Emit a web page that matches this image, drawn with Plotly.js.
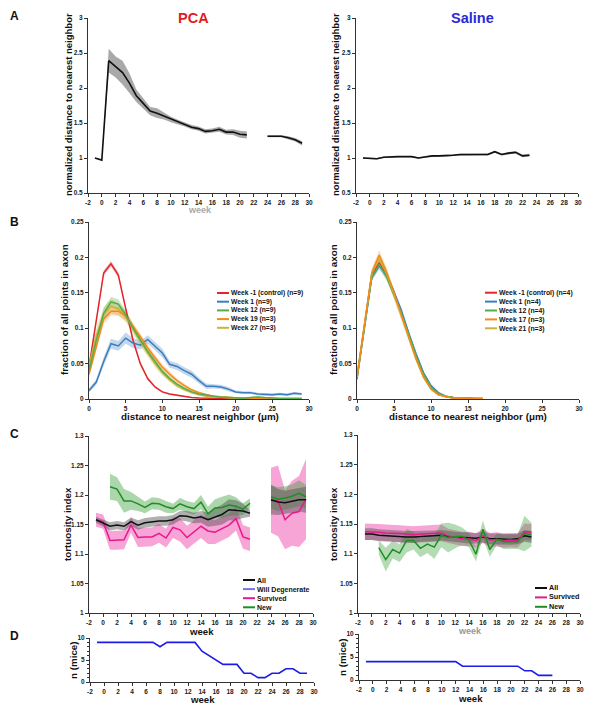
<!DOCTYPE html>
<html><head><meta charset="utf-8">
<script src="https://cdn.plot.ly/plotly-3.0.1.min.js"></script>
<style>html,body{margin:0;padding:0;background:#fff}#chart{width:595px;height:713px}</style>
</head><body><div id="chart"></div>
<script>
// ================= DATA =================
// Panel A: normalized distance to nearest neighbor (mean, SEM) by week
const weeksPCA = [-1,0,1,2,3,4,5,6,7,8,9,10,11,12,13,14,15,16,17,18,19,20,21,22,23,24,25,26,27,28,29];
const distPCA  = [1.00,0.97,2.39,2.30,2.22,2.07,1.89,1.78,1.67,1.64,1.60,1.55,1.51,1.48,1.44,1.42,1.38,1.39,1.41,1.37,1.37,1.34,1.33,null,null,1.31,1.31,1.31,1.29,1.26,1.21];
const distPCAsem = [0.005,0.005,0.17,0.15,0.17,0.14,0.09,0.07,0.06,0.07,0.05,0.04,0.035,0.03,0.03,0.03,0.03,0.03,0.035,0.035,0.04,0.05,0.05,null,null,0.015,0.015,0.015,0.02,0.025,0.03];
const weeksSal = [-1,0,1,2,3,4,5,6,7,8,9,10,11,12,13,14,15,16,17,18,19,20,21,22,23];
const distSal  = [1.00,0.99,0.99,1.01,1.02,1.02,1.02,1.02,1.00,1.02,1.03,1.03,1.03,1.04,1.05,1.05,1.05,1.05,1.05,1.09,1.05,1.07,1.08,1.03,1.04];
const distSalSem = [0.01,0.01,0.01,0.01,0.01,0.01,0.01,0.01,0.01,0.01,0.012,0.012,0.012,0.012,0.012,0.015,0.015,0.015,0.015,0.015,0.015,0.015,0.015,0.02,0.02];

// Panel B: fraction of all points vs distance (um)
const binsPCA = [0,1,2,3,4,5,6,7,8,9,10,11,12,13,14,15,16,17,18,19,20,21,22,23,24,25,26,27,28,29];
const labelsPCA = ['Week -1 (control) (n=9)','Week 1 (n=9)','Week 12 (n=9)','Week 19 (n=3)','Week 27 (n=3)'];
const pcaWm1 = [0.045,0.110,0.178,0.191,0.175,0.128,0.083,0.050,0.029,0.017,0.010,0.007,0.005,0.003,0.002,0.0015,0.001,0.001,0.001,0.0005,0.0005,0.0005,0.0003,0.0003,0.0002,0.0002,0.0001,0.0001,0.0001,0.0001];
const pcaWm1sem = [0.003,0.004,0.004,0.004,0.004,0.003,0.003,0.002,0.002,0.001,0.001,0.001,0.001,0.0005,0.0005,0.0005,0.0005,0.0005,0.0005,0.0003,0.0003,0.0003,0.0002,0.0002,0.0002,0.0002,0.0001,0.0001,0.0001,0.0001];
const pcaW1 = [0.012,0.024,0.053,0.078,0.075,0.086,0.079,0.076,0.084,0.075,0.065,0.049,0.046,0.040,0.035,0.026,0.018,0.018,0.017,0.014,0.010,0.009,0.009,0.007,0.006,0.006,0.007,0.006,0.008,0.007];
const pcaW1sem = [0.003,0.004,0.006,0.007,0.007,0.008,0.007,0.006,0.006,0.006,0.006,0.005,0.005,0.005,0.005,0.004,0.004,0.003,0.003,0.003,0.002,0.002,0.002,0.002,0.002,0.002,0.002,0.002,0.002,0.002];
const pcaW12 = [0.040,0.083,0.121,0.137,0.134,0.119,0.100,0.083,0.067,0.053,0.039,0.029,0.021,0.015,0.010,0.007,0.005,0.004,0.003,0.002,0.002,0.001,0.002,0.003,0.002,0.001,0.001,0.001,0.001,0.001];
const pcaW12sem = [0.005,0.006,0.007,0.007,0.007,0.006,0.005,0.005,0.004,0.004,0.003,0.003,0.002,0.002,0.002,0.001,0.001,0.001,0.001,0.001,0.001,0.001,0.001,0.001,0.001,0.0005,0.0005,0.0005,0.0005,0.0005];
const pcaW19 = [0.035,0.075,0.113,0.124,0.124,0.117,0.103,0.088,0.072,0.058,0.045,0.035,0.026,0.019,0.013,0.009,0.006,0.004,0.003,0.002,0.001,0.001,0.001,0.0005,0.0005,0.0005,0.0002,0.0002,0.0002,0.0002];
const pcaW19sem = [0.005,0.006,0.007,0.006,0.006,0.006,0.005,0.005,0.005,0.004,0.004,0.004,0.003,0.003,0.002,0.002,0.001,0.001,0.001,0.001,0.0005,0.0005,0.0005,0.0005,0.0005,0.0005,0.0002,0.0002,0.0002,0.0002];
const pcaW27 = [0.048,0.090,0.120,0.131,0.127,0.117,0.099,0.081,0.065,0.050,0.037,0.027,0.019,0.013,0.009,0.006,0.004,0.003,0.002,0.001,0.001,0.001,0.0005,0.0005,0.0002,0.0002,0.0002,0.0002,0.0002,0.0002];
const pcaW27sem = [0.008,0.009,0.010,0.010,0.009,0.008,0.007,0.006,0.005,0.005,0.004,0.003,0.003,0.002,0.002,0.001,0.001,0.001,0.001,0.0005,0.0005,0.0005,0.0005,0.0005,0.0005,0.0002,0.0002,0.0002,0.0002,0.0002];

const binsSal = [0,1,2,3,4,5,6,7,8,9,10,11,12,13,14,15,16,17];
const labelsSal = ['Week -1 (control) (n=4)','Week 1 (n=4)','Week 12 (n=4)','Week 17 (n=3)','Week 21 (n=3)'];
const salWm1 = [0.030,0.104,0.176,0.192,0.176,0.150,0.122,0.090,0.059,0.033,0.016,0.007,0.003,0.002,0.001,0.001,0.0005,0.0005];
const salWm1sem = [0.003,0.004,0.004,0.005,0.004,0.004,0.003,0.003,0.003,0.002,0.001,0.001,0.0005,0.0005,0.0005,0.0005,0.0002,0.0002];
const salW1 = [0.028,0.100,0.172,0.188,0.175,0.151,0.125,0.093,0.063,0.037,0.019,0.009,0.004,0.002,0.001,0.001,0.001,0.001];
const salW1sem = [0.003,0.004,0.005,0.005,0.005,0.004,0.004,0.003,0.003,0.002,0.002,0.001,0.0005,0.0005,0.0005,0.0005,0.0005,0.0005];
const salW12 = [0.030,0.102,0.172,0.190,0.172,0.147,0.121,0.091,0.061,0.035,0.017,0.008,0.004,0.002,0.001,0.001,0.0005,0.0005];
const salW12sem = [0.003,0.004,0.005,0.005,0.005,0.004,0.004,0.003,0.003,0.002,0.002,0.001,0.0005,0.0005,0.0005,0.0005,0.0002,0.0002];
const salW17 = [0.032,0.108,0.178,0.203,0.179,0.150,0.119,0.087,0.056,0.031,0.014,0.006,0.003,0.001,0.001,0.0005,0.0005,0.0002];
const salW17sem = [0.003,0.005,0.006,0.007,0.006,0.005,0.004,0.004,0.003,0.002,0.001,0.001,0.0005,0.0005,0.0005,0.0005,0.0002,0.0002];
const salW21 = [0.031,0.106,0.177,0.198,0.177,0.148,0.118,0.086,0.056,0.031,0.014,0.006,0.003,0.001,0.001,0.0005,0.0005,0.0002];
const salW21sem = [0.004,0.006,0.007,0.008,0.007,0.006,0.005,0.005,0.004,0.003,0.002,0.001,0.0005,0.0005,0.0005,0.0005,0.0002,0.0002];

// Panel C: tortuosity index
const tortAllPCA = [1.158,1.152,1.147,1.149,1.147,1.155,1.149,1.153,1.155,1.156,1.156,1.158,1.165,1.164,1.161,1.163,1.158,1.163,1.167,1.175,1.174,1.173,1.169,null,null,1.192,1.188,1.187,1.190,1.192,1.192];
const tortAllPCAsem = [0.005,0.006,0.007,0.007,0.007,0.007,0.008,0.008,0.008,0.008,0.008,0.008,0.008,0.009,0.009,0.010,0.012,0.015,0.017,0.018,0.017,0.012,0.006,null,null,0.025,0.022,0.02,0.02,0.02,0.022];
const tortSurvPCA = [1.158,1.155,1.123,1.123,1.124,1.149,1.128,1.129,1.129,1.135,1.127,1.145,1.141,1.128,1.138,1.147,1.139,1.137,1.143,1.149,1.160,1.129,1.125,null,null,1.191,1.190,1.158,1.169,1.172,1.193];
const tortSurvPCAsem = [0.012,0.012,0.016,0.016,0.016,0.013,0.016,0.016,0.016,0.016,0.016,0.018,0.02,0.02,0.02,0.02,0.022,0.02,0.02,0.02,0.02,0.02,0.02,null,null,0.055,0.06,0.05,0.055,0.06,0.068];
const tortNewPCA = [null,null,1.214,1.210,1.190,1.190,1.185,1.179,1.186,1.185,1.180,1.177,1.185,1.180,1.177,1.188,1.168,1.178,1.179,1.183,1.181,1.176,1.186,null,null,1.197,1.193,1.195,1.198,1.203,1.197];
const tortNewPCAsem = [null,null,0.022,0.02,0.02,0.015,0.012,0.01,0.01,0.01,0.01,0.008,0.01,0.01,0.01,0.012,0.012,0.015,0.018,0.018,0.015,0.01,0.008,null,null,0.02,0.02,0.02,0.02,0.022,0.02];
const weeksWillDeg = [-1,0];
const tortWillDeg = [1.157,1.153];

const tortAllSal = [1.133,1.133,1.131,1.130,1.130,1.129,1.128,1.128,1.129,1.130,1.130,1.131,1.129,1.128,1.127,1.126,1.126,1.128,1.125,1.125,1.124,1.124,1.125,1.130,1.128];
const tortAllSalSem = [0.01,0.01,0.01,0.01,0.01,0.01,0.01,0.01,0.009,0.009,0.009,0.009,0.009,0.009,0.009,0.009,0.009,0.009,0.009,0.009,0.009,0.009,0.009,0.01,0.01];
const tortSurvSal = [1.137,1.137,1.136,1.135,1.135,1.134,1.133,1.132,1.133,1.134,1.134,1.135,1.130,1.127,1.125,1.125,1.122,1.130,1.123,1.124,1.122,1.123,1.122,1.137,1.136];
const tortSurvSalSem = [0.014,0.014,0.014,0.014,0.014,0.014,0.014,0.014,0.014,0.014,0.014,0.014,0.012,0.012,0.012,0.012,0.012,0.012,0.012,0.012,0.012,0.012,0.012,0.014,0.014];
const tortNewSal = [null,null,1.110,1.090,1.107,1.101,1.122,1.122,1.109,1.116,1.111,1.131,1.127,1.129,1.129,1.123,1.099,1.141,1.107,1.124,1.120,1.120,1.120,1.134,1.132];
const tortNewSalSem = [null,null,0.012,0.02,0.015,0.015,0.02,0.015,0.015,0.015,0.02,0.02,0.025,0.02,0.015,0.012,0.012,0.015,0.012,0.01,0.012,0.012,0.012,0.03,0.02];

// Panel D: number of mice
const miceWeeksPCA = [-1,0,1,2,3,4,5,6,7,8,9,10,11,12,13,14,15,16,17,18,19,20,21,22,23,24,25,26,27,28,29];
const micePCA = [9,9,9,9,9,9,9,9,9,8,9,9,9,9,9,7,6,5,4,4,4,2,2,1,1,2,2,3,3,2,2];
const miceWeeksSal = [-1,0,1,2,3,4,5,6,7,8,9,10,11,12,13,14,15,16,17,18,19,20,21,22,23,24,25,26];
const miceSal = [4,4,4,4,4,4,4,4,4,4,4,4,4,4,3,3,3,3,3,3,3,3,3,2,2,1,1,1];

// Tick values
const weekTicks = [-2,0,2,4,6,8,10,12,14,16,18,20,22,24,26,28,30];
const distTicks = [0,5,10,15,20,25,30];
const ticksA = [0.5,1,1.5,2,2.5,3];
const ticksB = [0,0.05,0.1,0.15,0.2,0.25];
const ticksC = [1,1.05,1.1,1.15,1.2,1.25,1.3];
const ticksD = [0,5,10];

// ================= DRAWING =================
const FONT = 'Liberation Sans, Arial, Helvetica, sans-serif';
const W = 595, H = 713;
const px = x => x / W, py = y => 1 - y / H;
const sfx = n => (n === 1 ? '' : String(n));
const traces = [];

function segs(x, y) {
  const out = []; let cur = null;
  for (let i = 0; i < y.length; i++) {
    if (y[i] == null) { cur = null; continue; }
    if (!cur) { cur = { x: [], i: [] }; out.push(cur); }
    cur.x.push(x[i]); cur.i.push(i);
  }
  return out;
}
function band(x, m, s, color, n) {
  segs(x, m).forEach(sg => {
    const up = sg.i.map(i => m[i] + s[i]);
    const lo = sg.i.map(i => m[i] - s[i]);
    traces.push({ x: sg.x.concat(sg.x.slice().reverse()), y: up.concat(lo.reverse()),
      mode: 'lines', fill: 'toself', fillcolor: color, line: { width: 0, color: color },
      hoverinfo: 'skip', showlegend: false, xaxis: 'x' + sfx(n), yaxis: 'y' + sfx(n) });
  });
}
function line(x, m, color, n, w) {
  traces.push({ x: x.slice(0, m.length), y: m, mode: 'lines', line: { color: color, width: w || 1.5 },
    connectgaps: false, hoverinfo: 'skip', showlegend: false, xaxis: 'x' + sfx(n), yaxis: 'y' + sfx(n) });
}

// A
band(weeksPCA, distPCA, distPCAsem, 'rgba(140,140,140,0.75)', 1);
line(weeksPCA, distPCA, '#111', 1, 1.6);
band(weeksSal, distSal, distSalSem, 'rgba(140,140,140,0.75)', 2);
line(weeksSal, distSal, '#111', 2, 1.6);

// B
const histColors = ['#e3262c', '#3a7ebf', '#55ad4c', '#f28a1c', '#c9b43a'];
const histBands = ['rgba(227,38,44,0.3)', 'rgba(58,126,191,0.3)', 'rgba(85,173,76,0.3)', 'rgba(242,138,28,0.3)', 'rgba(201,180,58,0.35)'];
const pcaSeries = [[pcaWm1, pcaWm1sem], [pcaW1, pcaW1sem], [pcaW12, pcaW12sem], [pcaW19, pcaW19sem], [pcaW27, pcaW27sem]];
const salSeries = [[salWm1, salWm1sem], [salW1, salW1sem], [salW12, salW12sem], [salW17, salW17sem], [salW21, salW21sem]];
const orderPCA = [0, 1, 4, 3, 2];
const orderSal = [0, 1, 2, 4, 3];
orderPCA.forEach(k => band(binsPCA, pcaSeries[k][0], pcaSeries[k][1], histBands[k], 3));
orderPCA.forEach(k => line(binsPCA, pcaSeries[k][0], histColors[k], 3, 1.5));
orderSal.forEach(k => band(binsSal, salSeries[k][0], salSeries[k][1], histBands[k], 4));
orderSal.forEach(k => line(binsSal, salSeries[k][0], histColors[k], 4, 1.5));

// C
const cBlack = '#111', cPink = '#e8198b', cGreen = '#1f8f24', cPurple = '#7a6ef0';
band(weeksPCA, tortSurvPCA, tortSurvPCAsem, 'rgba(240,90,180,0.55)', 5);
band(weeksPCA, tortNewPCA, tortNewPCAsem, 'rgba(70,165,70,0.45)', 5);
band(weeksPCA, tortAllPCA, tortAllPCAsem, 'rgba(80,80,80,0.45)', 5);
line(weeksPCA, tortSurvPCA, cPink, 5);
line(weeksWillDeg, tortWillDeg, cPurple, 5);
line(weeksPCA, tortNewPCA, cGreen, 5);
line(weeksPCA, tortAllPCA, cBlack, 5);

band(weeksSal, tortSurvSal, tortSurvSalSem, 'rgba(240,90,180,0.55)', 6);
band(weeksSal, tortNewSal, tortNewSalSem, 'rgba(70,165,70,0.4)', 6);
band(weeksSal, tortAllSal, tortAllSalSem, 'rgba(80,80,80,0.45)', 6);
line(weeksSal, tortAllSal, cBlack, 6);
line(weeksSal, tortSurvSal, cPink, 6);
line(weeksSal, tortNewSal, cGreen, 6);

// D
line(miceWeeksPCA, micePCA, '#1c1ce8', 7, 1.6);
line(miceWeeksSal, miceSal, '#1c1ce8', 8, 1.6);

// ---- layout
const layout = {
  width: W, height: H, margin: { l: 0, r: 0, t: 0, b: 0 }, showlegend: false,
  paper_bgcolor: '#fff', plot_bgcolor: 'rgba(0,0,0,0)',
  font: { family: FONT, color: '#222' }, annotations: [], shapes: []
};
function axes(n, x0, x1, y0, y1, xr, xt, yr, yt, yminor) {
  const common = { showline: true, linecolor: '#333', linewidth: 1, ticks: 'outside', ticklen: 3,
    tickwidth: 1, tickcolor: '#333', showgrid: false, zeroline: false, fixedrange: true,
    tickfont: { family: FONT, size: 6.5, color: '#222', weight: 'bold' }, tickmode: 'array' };
  layout['xaxis' + sfx(n)] = Object.assign({}, common, { domain: [px(x0), px(x1)], range: xr,
    anchor: 'y' + sfx(n), tickvals: xt, ticktext: xt.map(String) });
  const ya = Object.assign({}, common, { domain: [py(y1), py(y0)], range: yr,
    anchor: 'x' + sfx(n), tickvals: yt, ticktext: yt.map(String) });
  if (yminor) ya.minor = { tickmode: 'linear', tick0: 0, dtick: yminor, ticks: 'outside', ticklen: 2, tickcolor: '#333' };
  layout['yaxis' + sfx(n)] = ya;
}
axes(1, 88, 309, 18, 193, [-2, 30], weekTicks, [0.5, 3], ticksA);
axes(2, 356, 578, 18, 193, [-2, 30], weekTicks, [0.5, 3], ticksA);
axes(3, 89, 309, 222, 399, [0, 30], distTicks, [0, 0.25], ticksB);
axes(4, 357, 579, 222, 399, [0, 30], distTicks, [0, 0.25], ticksB);
axes(5, 89, 313, 436, 613, [-2, 30], weekTicks, [1, 1.3], ticksC);
axes(6, 358, 580, 435, 613, [-2, 30], weekTicks, [1, 1.3], ticksC);
axes(7, 90, 314, 638, 682, [-2, 30], weekTicks, [0, 10], ticksD, 1);
axes(8, 359, 580, 634, 680, [-2, 30], weekTicks, [0, 10], ticksD, 1);

function ann(text, x, y, size, o) {
  o = o || {};
  layout.annotations.push({ text: text, x: px(x), y: py(y), xref: 'paper', yref: 'paper', showarrow: false,
    xanchor: o.xa || 'center', yanchor: o.ya || 'middle', textangle: o.rot || 0, align: o.align || 'center',
    borderpad: 0, font: { family: FONT, size: size, color: o.color || '#111' } });
}
// panel letters and titles
ann('<b>A</b>', 14, 16, 12); ann('<b>B</b>', 14, 222, 12); ann('<b>C</b>', 14, 434, 12); ann('<b>D</b>', 14, 636, 12);
ann('<b>PCA</b>', 193, 18, 14.5, { color: '#e31c23' });
ann('<b>Saline</b>', 472, 18, 14.5, { color: '#2b2bd6' });
// axis titles
ann('<b>normalized distance to nearest neighbor</b>', 68, 105, 9.5, { rot: -90 });
ann('<b>normalized distance to nearest neighbor</b>', 335, 105, 9.5, { rot: -90 });
ann('<b>week</b>', 200, 210, 9, { color: '#aaa' });
ann('<b>fraction of all points in axon</b>', 65, 310, 9.8, { rot: -90 });
ann('<b>fraction of all points in axon</b>', 334, 310, 9.8, { rot: -90 });
ann('<b>distance to nearest neighbor (μm)</b>', 200, 416, 9.8);
ann('<b>distance to nearest neighbor (μm)</b>', 468, 416, 9.8);
ann('<b>tortuosity index</b>', 67, 524, 9.8, { rot: -90 });
ann('<b>tortuosity index</b>', 333, 524, 9.8, { rot: -90 });
ann('<b>week</b>', 201, 631, 9.6);
ann('<b>week</b>', 470, 631, 9, { color: '#999' });
ann('<b>n (mice)</b>', 73, 660, 9.8, { rot: -90 });
ann('<b>n (mice)</b>', 342, 657, 9.8, { rot: -90 });
ann('<b>week</b>', 202, 699.5, 9.6);
ann('<b>week</b>', 470, 698, 9.6);

// legends: one multi-line text block each, with line samples beside each row
function legend(items, colors, xl, ytop, spacing) {
  const size = spacing / 1.3;
  const n = items.length;
  items.forEach((t, i) => {
    const yy = ytop + i * spacing;
    layout.shapes.push({ type: 'line', xref: 'paper', yref: 'paper', x0: px(xl), x1: px(xl + 12),
      y0: py(yy), y1: py(yy), line: { color: colors[i], width: 2 } });
  });
  ann(items.map(t => '<b>' + t + '</b>').join('<br>'), xl + 13, ytop + (n - 1) * spacing / 2, size,
    { xa: 'left', align: 'left' });
}
legend(labelsPCA, histColors, 217, 293, 8.7);
legend(labelsSal, histColors, 485, 292.7, 8.9);
legend(['All', 'Will Degenerate', 'Survived', 'New'], [cBlack, cPurple, cPink, cGreen], 243, 580, 9.1);
legend(['All', 'Survived', 'New'], [cBlack, cPink, cGreen], 535, 588, 9.4);

Plotly.newPlot('chart', traces, layout, { staticPlot: true, displayModeBar: false });
</script>
</body></html>
